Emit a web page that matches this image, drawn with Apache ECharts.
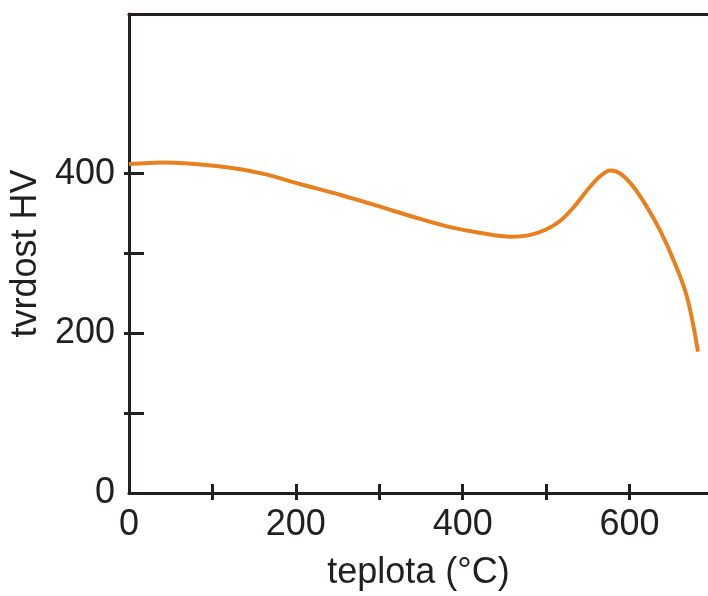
<!DOCTYPE html>
<html>
<head>
<meta charset="utf-8">
<script src="https://cdn.jsdelivr.net/npm/echarts@6/dist/echarts.min.js"></script>
<style>html,body{margin:0;padding:0;background:#fff}#c{width:708px;height:596px}</style>
</head>
<body>
<div id="c"></div>
<script>
const temperature = [0, 40, 110, 160, 205, 255, 300, 350, 385, 420, 458, 480, 500, 517, 533, 549, 565, 577, 589, 605, 621, 637, 653, 669, 682];
const hardness = [412, 414, 409, 400, 387, 373, 359, 343, 333, 326, 321, 323, 330, 341, 358, 379, 397, 404, 400, 383, 358, 328, 291, 245, 177];
const xLabelValues = [0, 200, 400, 600];
const xTickValues = [100, 200, 300, 400, 500, 600];
const yLabelValues = [0, 200, 400];
const yTickValues = [100, 200, 300, 400];
const xName = 'teplota (°C)';
const yName = 'tvrdost HV';

const ink = '#231f20';
const font = "'Liberation Sans', Arial, sans-serif";
const xMin = 0, xMax = 694, yMin = 0, yMax = 600;

const chart = echarts.init(document.getElementById('c'));
chart.setOption({
  animation: false,
  grid: { left: 126, right: 0, top: 14, bottom: 101 },
  xAxis: [
    {
      type: 'value', position: 'bottom', min: xMin, max: xMax,
      name: xName, nameLocation: 'middle', nameGap: 62,
      nameTextStyle: { color: ink, fontSize: 36, fontFamily: font },
      axisLine: { show: true, lineStyle: { color: ink, width: 3 } },
      axisTick: { show: true, inside: true, length: 9, customValues: xTickValues, lineStyle: { color: ink, width: 3 } },
      axisLabel: { show: true, customValues: xLabelValues, margin: 14, color: ink, fontSize: 36, fontFamily: font },
      splitLine: { show: false }
    },
    {
      type: 'value', position: 'bottom', min: xMin, max: xMax,
      axisLine: { show: false },
      axisTick: { show: true, inside: false, length: 7, customValues: xTickValues, lineStyle: { color: ink, width: 3 } },
      axisLabel: { show: false },
      splitLine: { show: false }
    },
    {
      type: 'value', position: 'top', min: xMin, max: xMax,
      axisLine: { show: true, lineStyle: { color: ink, width: 3 } },
      axisTick: { show: false },
      axisLabel: { show: false },
      splitLine: { show: false }
    }
  ],
  yAxis: [
    {
      type: 'value', position: 'left', min: yMin, max: yMax,
      name: yName, nameLocation: 'middle', nameGap: 82, nameRotate: 90,
      nameTextStyle: { color: ink, fontSize: 36, fontFamily: font },
      axisLine: { show: true, lineStyle: { color: ink, width: 3 } },
      axisTick: { show: true, inside: true, length: 15, customValues: yTickValues, lineStyle: { color: ink, width: 3 } },
      axisLabel: { show: true, customValues: yLabelValues, margin: 14, color: ink, fontSize: 36, fontFamily: font },
      splitLine: { show: false }
    },
    {
      type: 'value', position: 'left', min: yMin, max: yMax,
      axisLine: { show: false },
      axisTick: { show: true, inside: false, length: 5, customValues: yTickValues, lineStyle: { color: ink, width: 3 } },
      axisLabel: { show: false },
      splitLine: { show: false }
    }
  ],
  series: [{
    type: 'line',
    xAxisIndex: 0, yAxisIndex: 0,
    data: temperature.map((t, i) => [t, hardness[i]]),
    smooth: 0.35,
    symbol: 'none',
    lineStyle: { color: '#e8801f', width: 4 }
  }]
});
</script>
</body>
</html>
